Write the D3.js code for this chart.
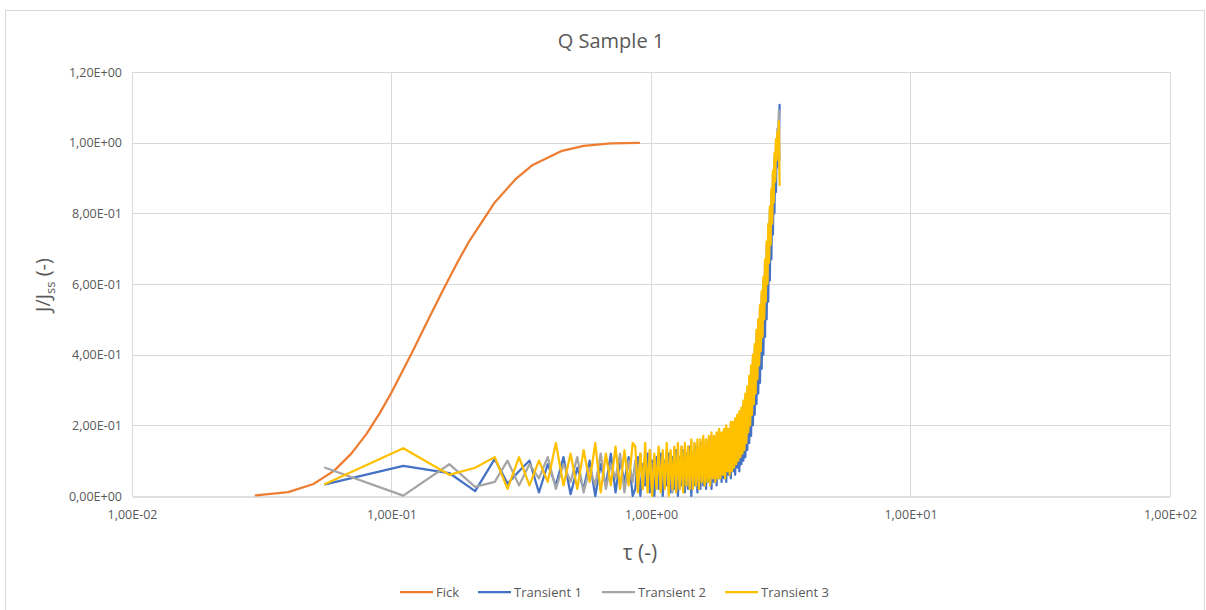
<!DOCTYPE html>
<html>
<head>
<meta charset="utf-8">
<script src="https://cdn.jsdelivr.net/npm/d3@7"></script>
<style>
  html, body { margin: 0; padding: 0; background: #fff; }
  svg { display: block; font-family: "Open Sans", "Liberation Sans", sans-serif; }
</style>
</head>
<body>
<svg id="chart" width="1206" height="610"></svg>
<script>
// ---------- data ----------
const title = "Q Sample 1";
const xTicks = [0.01, 0.1, 1, 10, 100];
const yTicks = [0, 0.2, 0.4, 0.6, 0.8, 1.0, 1.2];
const seriesNames = ["Fick", "Transient 1", "Transient 2", "Transient 3"];
const seriesColors = ["#ED7D31", "#4472C4", "#A5A5A5", "#FFC000"];

const fickTau = [0.03,0.04,0.05,0.06,0.07,0.08,0.09,0.10,0.12,0.14,0.16,0.18,0.20,0.25,0.30,0.35,0.45,0.55,0.70,0.90];
const fickVal = [0.002,0.011,0.034,0.071,0.120,0.175,0.234,0.293,0.406,0.506,0.591,0.663,0.723,0.831,0.896,0.937,0.976,0.991,0.998,0.9997];

const transTau = [0.0555,0.111,0.167,0.21,
  0.25,0.28,0.31,0.34,0.37,0.40,0.43,0.46,0.49,0.52,0.55,0.58,0.61,0.64,0.67,0.70,0.73,0.76,0.79,0.82,0.85,
  0.87,0.89,0.91,0.93,0.95,0.97,0.99,1.01,1.03,1.05,
  1.07,1.09,1.11,1.13,1.15,1.17,1.19,1.21,1.23,1.25,
  1.27,1.29,1.31,1.33,1.35,1.37,1.39,1.41,1.43,1.45,
  1.47,1.49,1.51,1.53,1.55,1.57,1.59,1.61,1.63,1.65,
  1.67,1.69,1.71,1.73,1.75,1.77,1.79,1.81,1.83,1.85,
  1.87,1.89,1.91,1.93,1.95,1.97,1.99,2.01,2.03,2.05,
  2.07,2.09,2.11,2.13,2.15,2.17,2.19,2.21,2.23,2.25,
  2.27,2.29,2.31,2.33,2.35,2.37,2.39,2.41,2.43,2.45,
  2.47,2.49,2.51,2.53,2.55,2.57,2.59,2.61,2.63,2.65,
  2.67,2.69,2.71,2.73,2.75,2.77,2.79,2.81,2.83,2.85,
  2.87,2.89,2.91,2.93,2.95,2.97,2.99,3.01,3.03,3.05,
  3.07,3.09,3.11,3.13];

const transient1 = [0.033,0.085,0.065,0.014,
  0.105,0.035,0.07,0.10,0.01,0.09,0.03,0.11,0.005,0.08,0.02,0.10,0.0,0.09,0.03,0.12,0.01,0.10,0.04,0.11,0.0,
  0.02,0.11,0.0,0.09,0.03,0.12,0.01,0.10,0.0,0.11,
  0.02,0.12,0.0,0.10,0.03,0.12,0.01,0.11,0.02,0.13,
  0.0,0.11,0.03,0.13,0.01,0.12,0.02,0.14,0.0,0.12,
  0.03,0.14,0.01,0.13,0.02,0.15,0.03,0.14,0.02,0.15,
  0.04,0.16,0.02,0.15,0.04,0.16,0.03,0.17,0.05,0.16,
  0.04,0.17,0.05,0.18,0.04,0.17,0.06,0.19,0.05,0.18,
  0.07,0.19,0.06,0.20,0.08,0.21,0.07,0.22,0.09,0.23,
  0.10,0.24,0.11,0.26,0.13,0.28,0.15,0.31,0.17,0.34,
  0.20,0.37,0.23,0.40,0.26,0.43,0.29,0.46,0.32,0.50,
  0.36,0.54,0.40,0.58,0.45,0.62,0.50,0.67,0.55,0.72,
  0.61,0.78,0.67,0.83,0.74,0.89,0.80,0.95,0.86,1.00,
  0.93,1.04,1.00,1.107];

const transient2 = [0.08,0.001,0.09,0.026,
  0.04,0.10,0.03,0.09,0.05,0.11,0.02,0.09,0.04,0.11,0.01,0.08,0.03,0.12,0.02,0.09,0.05,0.12,0.01,0.10,0.04,
  0.10,0.03,0.12,0.02,0.11,0.04,0.13,0.02,0.10,0.03,
  0.12,0.02,0.11,0.04,0.13,0.03,0.12,0.01,0.13,0.04,
  0.12,0.02,0.14,0.04,0.13,0.03,0.14,0.02,0.13,0.05,
  0.15,0.03,0.14,0.04,0.15,0.05,0.16,0.03,0.15,0.05,
  0.16,0.04,0.17,0.05,0.16,0.06,0.17,0.05,0.18,0.06,
  0.17,0.07,0.18,0.06,0.19,0.08,0.18,0.07,0.20,0.08,
  0.20,0.09,0.21,0.10,0.22,0.11,0.23,0.12,0.24,0.13,
  0.26,0.14,0.28,0.16,0.30,0.19,0.33,0.21,0.36,0.24,
  0.39,0.27,0.42,0.30,0.46,0.34,0.49,0.38,0.53,0.42,
  0.57,0.46,0.61,0.51,0.66,0.56,0.71,0.61,0.76,0.67,
  0.81,0.72,0.86,0.78,0.91,0.84,0.96,0.90,1.00,0.96,
  1.04,1.02,1.09,0.95];

const transient3 = [0.034,0.135,0.06,0.08,
  0.11,0.02,0.11,0.03,0.10,0.04,0.15,0.03,0.12,0.02,0.13,0.04,0.15,0.01,0.12,0.03,0.14,0.02,0.13,0.03,0.15,
  0.14,0.01,0.12,0.02,0.15,0.01,0.13,0.0,0.12,0.02,
  0.14,0.01,0.13,0.02,0.15,0.0,0.13,0.02,0.14,0.01,
  0.15,0.02,0.14,0.01,0.15,0.03,0.14,0.02,0.16,0.02,
  0.15,0.03,0.16,0.02,0.16,0.04,0.17,0.03,0.16,0.04,
  0.17,0.03,0.18,0.05,0.17,0.04,0.18,0.05,0.19,0.05,
  0.18,0.06,0.19,0.05,0.20,0.07,0.19,0.06,0.21,0.07,
  0.21,0.08,0.22,0.09,0.23,0.10,0.24,0.11,0.25,0.12,
  0.27,0.13,0.29,0.15,0.31,0.18,0.34,0.20,0.37,0.23,
  0.40,0.26,0.43,0.29,0.47,0.33,0.50,0.37,0.54,0.41,
  0.58,0.45,0.62,0.50,0.67,0.55,0.72,0.60,0.77,0.66,
  0.82,0.71,0.87,0.77,0.92,0.83,0.97,0.89,1.01,0.95,
  1.03,1.00,1.06,0.88];

// ---------- layout ----------
const svg = d3.select("#chart");
const plot = { left: 132, right: 1170, top: 72, bottom: 496 };

svg.append("rect").attr("x", 5.5).attr("y", 10.5).attr("width", 1199).attr("height", 640)
  .attr("fill", "#fff").attr("stroke", "#d9d9d9").attr("stroke-width", 1);

const x = d3.scaleLog().domain([0.01, 100]).range([plot.left, plot.right]);
const y = d3.scaleLinear().domain([0, 1.2]).range([plot.bottom, plot.top]);

const fmt = v => {
  const s = v.toExponential(2);
  const [m, e] = s.split("e");
  const sign = e[0] === "-" ? "-" : "+";
  const ex = Math.abs(parseInt(e, 10)).toString().padStart(2, "0");
  return m.replace(".", ",") + "E" + sign + ex;
};

// gridlines
const grid = svg.append("g");
grid.selectAll("line.h").data(yTicks.filter(d => d > 0)).join("line")
  .attr("x1", plot.left).attr("x2", plot.right)
  .attr("y1", d => Math.round(y(d)) + 0.5).attr("y2", d => Math.round(y(d)) + 0.5)
  .attr("stroke", "#d9d9d9").attr("stroke-width", 1);
grid.selectAll("line.v").data(xTicks).join("line")
  .attr("x1", d => Math.round(x(d)) + 0.5).attr("x2", d => Math.round(x(d)) + 0.5)
  .attr("y1", plot.top).attr("y2", plot.bottom)
  .attr("stroke", "#d9d9d9").attr("stroke-width", 1);

// x axis
const xAxis = d3.axisBottom(x).tickValues(xTicks).tickFormat(fmt).tickSize(0).tickPadding(14);
const gx = svg.append("g").attr("transform", `translate(0,${Math.round(plot.bottom) + 0.5})`).call(xAxis);
gx.select(".domain").attr("stroke", "#bfbfbf");
gx.selectAll("text").attr("fill", "#595959").style("font-size", "12.5px")
  .style("font-family", "'Open Sans', sans-serif");

// y axis
const yAxis = d3.axisLeft(y).tickValues(yTicks).tickFormat(fmt).tickSize(0).tickPadding(10);
const gy = svg.append("g").attr("transform", `translate(${plot.left},0)`).call(yAxis);
gy.select(".domain").remove();
gy.selectAll("text").attr("fill", "#595959").style("font-size", "12.5px")
  .style("font-family", "'Open Sans', sans-serif");

// series
const line = d3.line().x(d => x(d[0])).y(d => y(d[1]));
const allSeries = [
  fickTau.map((t, i) => [t, fickVal[i]]),
  transTau.map((t, i) => [t, transient1[i]]),
  transTau.map((t, i) => [t, transient2[i]]),
  transTau.map((t, i) => [t, transient3[i]])
];
svg.append("g").selectAll("path").data(allSeries).join("path")
  .attr("d", d => line(d))
  .attr("fill", "none")
  .attr("stroke", (d, i) => seriesColors[i])
  .attr("stroke-width", 2.25)
  .attr("stroke-linejoin", "round")
  .attr("stroke-linecap", "round");

// title
svg.append("text").attr("x", 611).attr("y", 48).attr("text-anchor", "middle")
  .attr("fill", "#595959").style("font-size", "20px").text(title);

// axis titles
const yt = svg.append("text").attr("transform", "translate(50,285) rotate(-90)")
  .attr("text-anchor", "middle").attr("fill", "#595959").style("font-size", "20px");
yt.append("tspan").text("J/J");
yt.append("tspan").attr("dy", 5).style("font-size", "13px").text("ss");
yt.append("tspan").attr("dy", -5).text(" (-)");

svg.append("text").attr("x", 640).attr("y", 560).attr("text-anchor", "middle")
  .attr("fill", "#595959").style("font-size", "21px").text("τ (-)");

// legend
const legendX = [400, 478, 602, 725];
const lg = svg.append("g").selectAll("g").data(seriesNames).join("g")
  .attr("transform", (d, i) => `translate(${legendX[i]},592)`);
lg.append("line").attr("x1", 0).attr("x2", 33).attr("y1", 0).attr("y2", 0)
  .attr("stroke", (d, i) => seriesColors[i]).attr("stroke-width", 2.25);
lg.append("text").attr("x", 36).attr("y", 4.5).attr("fill", "#595959")
  .style("font-size", "13px").text(d => d);
</script>
</body>
</html>
